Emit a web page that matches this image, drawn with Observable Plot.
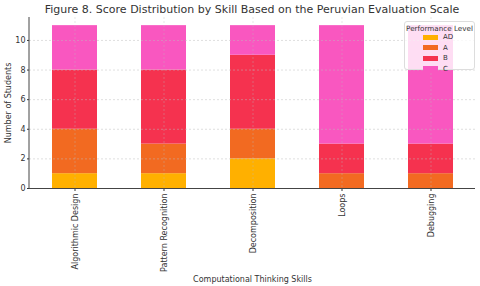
<!DOCTYPE html>
<html><head><meta charset="utf-8">
<script src="https://cdn.jsdelivr.net/npm/d3@7"></script>
<script src="https://cdn.jsdelivr.net/npm/@observablehq/plot@0.6"></script>
<style>
body{margin:0;background:#fff;font-family:"DejaVu Sans",sans-serif;}
#wrap{position:relative;width:480px;height:286px;overflow:hidden;}
#title{position:absolute;left:29px;width:446px;top:3px;text-align:center;font-size:11px;color:#333;white-space:nowrap;}
#legend{position:absolute;left:404px;top:21px;width:71px;height:49px;background:rgba(255,255,255,0.8);border:1px solid #ddd;border-radius:3px;box-sizing:border-box;font-size:7px;color:#333;}
#legend .lt{text-align:center;margin-top:2px;font-size:7.2px;}
#legend .it{position:absolute;left:18px;height:8px;line-height:8px;}
#legend .sw{display:inline-block;width:15px;height:5px;vertical-align:middle;margin-right:5px;}
</style></head>
<body><div id="wrap"><div id="title"></div></div>
<script>
const title = "Figure 8. Score Distribution by Skill Based on the Peruvian Evaluation Scale";
const skills = ["Algorithmic Design","Pattern Recognition","Decomposition","Loops","Debugging"];
const levels = ["AD","A","B","C"];
const colors = ["#FFB000","#F26A21","#F5324F","#F957C0"];
const AD = [1,1,2,0,0];
const A  = [3,2,2,1,1];
const B  = [4,5,5,2,2];
const C  = [3,3,2,8,8];
const yTicks = [0,2,4,6,8,10];
const series = {AD, A, B, C};

const data = [];
skills.forEach((s,i)=>levels.forEach(l=>data.push({skill:s, level:l, count:series[l][i]})));

const mL = 29, mT = 17, mB = 98, H = 286;
const plot = Plot.plot({
  width: 480, height: H,
  marginTop: mT, marginBottom: mB, marginLeft: mL, marginRight: 5,
  style: {fontFamily: '"DejaVu Sans", sans-serif', fontSize: "8px", color: "#333", background: "transparent"},
  x: {domain: skills, paddingInner: 0.5, paddingOuter: 0.25},
  y: {domain: [0, 11.55]},
  color: {domain: levels, range: colors},
  marks: [
    Plot.barY(data, Plot.stackY({x: "skill", y: "count", fill: "level"})),
    Plot.gridY(yTicks, {stroke: "#bbb", strokeOpacity: 0.8, strokeDasharray: "2,2", strokeWidth: 0.6}),
    Plot.gridX(skills, {stroke: "#bbb", strokeOpacity: 0.6, strokeDasharray: "2,2", strokeWidth: 0.6}),
    Plot.axisY(yTicks, {tickSize: 2, tickPadding: 2, label: "Number of Students", labelAnchor: "center", labelArrow: false, labelOffset: 24, fontSize: 8}),
    Plot.axisX({tickSize: 3, tickPadding: 2, tickRotate: -90, label: "Computational Thinking Skills", labelAnchor: "center", labelArrow: false, labelOffset: 93, fontSize: 8}),
    Plot.ruleY([0], {stroke: "#444", strokeWidth: 1})
  ]
});
d3.select(plot).append("line")
  .attr("x1", mL).attr("x2", mL).attr("y1", mT).attr("y2", H - mB + 0.5)
  .attr("stroke", "#444").attr("stroke-width", 1);
const wrap = document.getElementById("wrap");
wrap.appendChild(plot);
document.getElementById("title").textContent = title;

const lg = document.createElement("div");
lg.id = "legend";
lg.innerHTML = '<div class="lt">Performance Level</div>';
levels.forEach((l,i)=>{
  const it = document.createElement("div");
  it.className = "it";
  it.style.top = (11 + i*10.5) + "px";
  it.innerHTML = `<span class="sw" style="background:${colors[i]}"></span>${l}`;
  lg.appendChild(it);
});
wrap.appendChild(lg);
</script></body></html>
